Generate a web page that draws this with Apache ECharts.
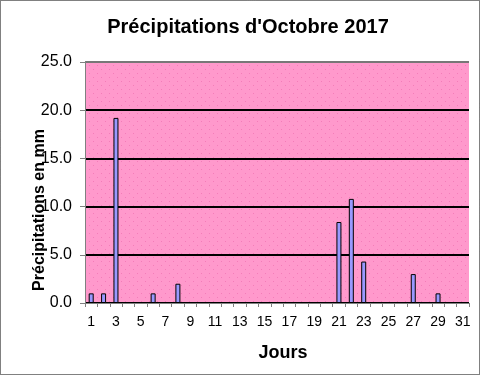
<!DOCTYPE html>
<html>
<head>
<meta charset="utf-8">
<script src="https://cdn.jsdelivr.net/npm/echarts@6/dist/echarts.min.js"></script>
<style>
html,body{margin:0;padding:0;background:#fff;}
#chart{width:481px;height:376px;}
</style>
</head>
<body>
<div id="chart"></div>
<script>
var titleText = "Précipitations d'Octobre 2017";
var yAxisTitle = "Précipitations en mm";
var xAxisTitle = "Jours";
var days = ["1","2","3","4","5","6","7","8","9","10","11","12","13","14","15","16","17","18","19","20","21","22","23","24","25","26","27","28","29","30","31"];
var rainfall = [1.0,1.0,19.2,0,0,1.0,0,2.0,0,0,0,0,0,0,0,0,0,0,0,0,8.4,10.8,4.3,0,0,0,3.0,0,1.0,0,0];
var yTicks = [0,5,10,15,20,25];

var pc = document.createElement('canvas');
pc.width = 8; pc.height = 8;
var g = pc.getContext('2d');
g.fillStyle = '#ff99cc'; g.fillRect(0,0,8,8);
g.fillStyle = '#f47cb9';
g.fillRect(1,1,1,1); g.fillRect(5,5,1,1);

var chart = echarts.init(document.getElementById('chart'), null, {renderer:'canvas'});
var font = 'Arial, "Liberation Sans", sans-serif';
chart.setOption({
  animation:false,
  backgroundColor:'#ffffff',
  title:{
    text:titleText, left:243, top:12, textAlign:'center',
    textStyle:{fontFamily:font, fontSize:20, fontWeight:'bold', color:'#000'}
  },
  grid:{left:85, right:12, top:62, bottom:73, show:true,
        backgroundColor:{image:pc, repeat:'repeat'}, borderWidth:0},
  xAxis:{
    type:'category', data:days, boundaryGap:true,
    name:xAxisTitle, nameLocation:'middle', nameGap:41,
    nameTextStyle:{fontFamily:font, fontSize:18, fontWeight:'bold', color:'#000', padding:[0,0,0,12]},
    axisLine:{show:true, lineStyle:{color:'#808080', width:1}},
    axisTick:{show:true, interval:0, length:4, lineStyle:{color:'#808080'}},
    axisLabel:{interval:1, margin:12, fontFamily:font, fontSize:14, color:'#000'},
    splitLine:{show:false}
  },
  yAxis:{
    type:'value', min:yTicks[0], max:yTicks[yTicks.length-1], interval:5,
    axisLine:{show:true, lineStyle:{color:'#808080', width:1}},
    axisTick:{show:true, length:5, lineStyle:{color:'#808080'}},
    axisLabel:{margin:13, fontFamily:font, fontSize:16, color:'#000',
      formatter:function(v){return v.toFixed(1);}},
    splitLine:{show:true, lineStyle:{color:['#000','#000','#000','#000','#000','#777'], width:2}}
  },
  series:[{
    type:'bar', barWidth:5,
    data:rainfall.map(function(v){return v===0?'-':v;}),
    itemStyle:{color:'#9999ff', borderColor:'#000', borderWidth:1},
    z:3
  }],
  graphic:[
    {type:'text', x:40, y:210, rotation:Math.PI/2, z:100,
     style:{text:yAxisTitle, fontFamily:font, fontSize:16, fontWeight:'bold', fill:'#000',
            align:'center', verticalAlign:'middle'}},
    {type:'rect', shape:{x:0.5, y:0.5, width:479, height:374}, z:100,
     style:{fill:null, stroke:'#000', lineWidth:1, lineDash:[1,1]}}
  ]
});
</script>
</body>
</html>
